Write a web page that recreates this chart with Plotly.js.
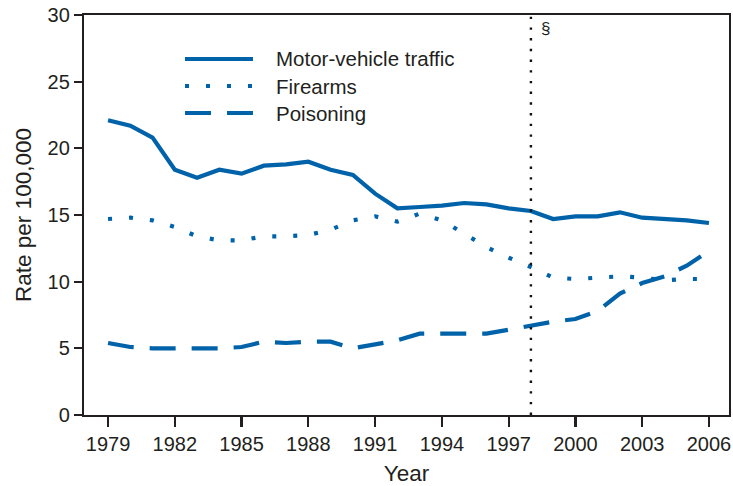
<!DOCTYPE html>
<html>
<head>
<meta charset="utf-8">
<script src="https://cdn.plot.ly/plotly-3.0.1.min.js"></script>
<style>html,body{margin:0;padding:0;background:#fff;}#chart{width:733px;height:486px;}</style>
</head>
<body>
<div id="chart"></div>
<script>
const years = [1979,1980,1981,1982,1983,1984,1985,1986,1987,1988,1989,1990,1991,1992,1993,1994,1995,1996,1997,1998,1999,2000,2001,2002,2003,2004,2005,2006];
const motorVehicle = [22.1,21.7,20.8,18.4,17.8,18.4,18.1,18.7,18.8,19.0,18.4,18.0,16.6,15.5,15.6,15.7,15.9,15.8,15.5,15.3,14.7,14.9,14.9,15.2,14.8,14.7,14.6,14.4];
const firearms = [14.7,14.8,14.6,14.1,13.4,13.1,13.1,13.4,13.4,13.5,13.9,14.6,14.9,14.5,15.1,14.6,13.6,12.6,11.8,11.1,10.3,10.2,10.3,10.4,10.3,10.1,10.2,10.2];
const poisoning = [5.4,5.1,5.0,5.0,5.0,5.0,5.1,5.5,5.4,5.5,5.5,5.0,5.3,5.6,6.1,6.1,6.1,6.1,6.4,6.7,7.0,7.2,7.8,9.1,9.9,10.4,11.2,12.3];
const seriesNames = ["Motor-vehicle traffic","Firearms","Poisoning"];
const xTickVals = [1979,1982,1985,1988,1991,1994,1997,2000,2003,2006];
const yTickVals = [0,5,10,15,20,25,30];
const markerYear = 1998;
const markerLabel = "§";

const blue = "rgb(0,99,170)";
const ink = "#231f20";
const fam = "Liberation Sans, Arial, sans-serif";
const dashes = ["solid","4px,17px","26px,16px"];
const seriesData = [motorVehicle, firearms, poisoning];

const traces = seriesData.map((ys, i) => ({
  x: years, y: ys, type: "scatter", mode: "lines", name: seriesNames[i],
  line: {color: blue, width: 4.2, dash: dashes[i]}, showlegend: false, hoverinfo: "skip"
}));

const legendY = [0.89, 0.8225, 0.755];
const shapes = [{
  type: "line", xref: "x", yref: "y", x0: markerYear, x1: markerYear, y0: 0, y1: 30,
  line: {color: "#111", width: 2.4, dash: "2.4px,8.3px"}
}];
const annotations = [{
  x: markerYear, xref: "x", y: 29.0, yref: "y", text: markerLabel, showarrow: false,
  xanchor: "left", xshift: 8, font: {size: 17, color: ink, family: fam}
}];
seriesNames.forEach((n, i) => {
  shapes.push({type: "line", xref: "paper", yref: "paper", x0: 0.1566, x1: 0.262, y0: legendY[i], y1: legendY[i],
    line: {color: blue, width: 4.2, dash: dashes[i]}});
  annotations.push({x: 0.2945, xref: "paper", y: legendY[i], yref: "paper", text: n, showarrow: false,
    xanchor: "left", yanchor: "middle", font: {size: 20.5, color: ink, family: fam}});
});

const layout = {
  width: 733, height: 486,
  margin: {l: 84, r: 4, t: 15, b: 71},
  paper_bgcolor: "#fff", plot_bgcolor: "#fff",
  font: {family: fam, size: 20, color: ink},
  xaxis: {
    range: [1977.92, 2006.9], tickvals: xTickVals, ticktext: xTickVals.map(String),
    showgrid: false, zeroline: false, showline: true, mirror: true, linecolor: ink, linewidth: 2.2,
    ticks: "outside", ticklen: 10, tickwidth: 2.2, tickcolor: ink,
    tickfont: {size: 20, color: ink},
    title: {text: "Year", font: {size: 22.5, color: ink}, standoff: 15}
  },
  yaxis: {
    range: [0, 30], tickvals: yTickVals,
    showgrid: false, zeroline: false, showline: true, mirror: true, linecolor: ink, linewidth: 2.2,
    ticks: "outside", ticklen: 8, tickwidth: 2.2, tickcolor: ink,
    tickfont: {size: 20, color: ink},
    title: {text: "Rate per 100,000", font: {size: 22.5, color: ink}, standoff: 10}
  },
  shapes: shapes, annotations: annotations, showlegend: false
};

Plotly.newPlot("chart", traces, layout, {displayModeBar: false, staticPlot: true});
</script>
</body>
</html>
